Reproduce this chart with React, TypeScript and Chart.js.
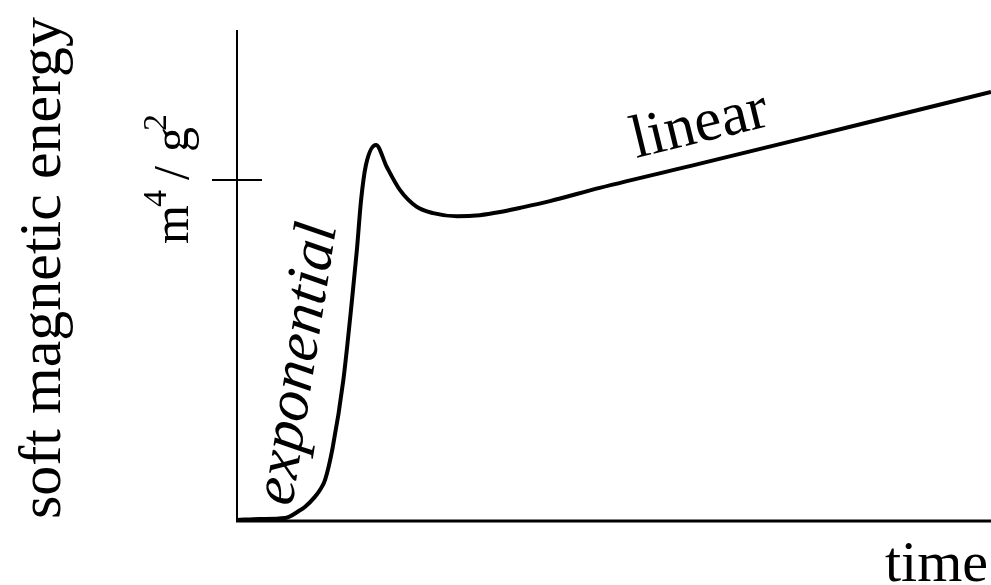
import React, { useEffect, useRef } from "react";
import { Chart, registerables } from "chart.js";

Chart.register(...registerables);

// Sketch of soft magnetic energy growth over time
const timeValues = [
  0, 3, 6.4, 8.4, 9.0, 10.3, 11.0, 11.67, 12.7, 14.1, 15.25, 15.9, 16.45, 17.1,
  18.44, 19.85, 21.6, 23.8, 26.0, 29.2, 32.2, 34.9, 37.5, 41.5, 48.1, 61.4,
  74.7, 87.9, 100,
];
const energyValues = [
  0.003, 0.006, 0.009, 0.032, 0.041, 0.07, 0.091, 0.12, 0.217, 0.413, 0.648,
  0.795, 0.94, 1.044, 1.103, 1.039, 0.971, 0.922, 0.903, 0.894, 0.897, 0.906,
  0.918, 0.938, 0.977, 1.048, 1.12, 1.192, 1.258,
];
const energyTick = 1;
const yAxisTitle = "soft magnetic energy";
const xAxisTitle = "time";
const growthLabel = "exponential";
const saturationLabel = "linear";

const SERIF = '"Liberation Serif", "Times New Roman", Times, "Nimbus Roman", "DejaVu Serif", serif';

const sketchAxes = {
  id: "sketchAxes",
  afterDraw(chart: any) {
    const { ctx, chartArea } = chart;
    const y = chart.scales.y;
    const { left, right, top, bottom } = chartArea;
    ctx.save();
    ctx.strokeStyle = "#000";
    ctx.fillStyle = "#000";
    ctx.lineCap = "butt";

    // axes
    ctx.lineWidth = 2;
    ctx.beginPath();
    ctx.moveTo(left, top);
    ctx.lineTo(left, bottom);
    ctx.stroke();
    ctx.lineWidth = 3;
    ctx.beginPath();
    ctx.moveTo(left - 1, bottom);
    ctx.lineTo(right, bottom);
    ctx.stroke();

    // tick crossing the y axis
    const ty = y.getPixelForValue(energyTick);
    ctx.lineWidth = 2;
    ctx.beginPath();
    ctx.moveTo(left - 25, ty);
    ctx.lineTo(left + 25, ty);
    ctx.stroke();

    ctx.textBaseline = "alphabetic";
    ctx.textAlign = "left";

    // y axis title
    ctx.save();
    ctx.translate(60, 519);
    ctx.rotate(-Math.PI / 2);
    ctx.font = `60px ${SERIF}`;
    ctx.fillText(yAxisTitle, 0, 0);
    ctx.restore();

    // tick unit label m^4 / g^2
    ctx.save();
    ctx.translate(188, ty + 64);
    ctx.rotate(-Math.PI / 2);
    ctx.font = `50px ${SERIF}`;
    ctx.fillText("m", 0, 0);
    ctx.font = `34px ${SERIF}`;
    ctx.fillText("4", 37, -22);
    ctx.font = `50px ${SERIF}`;
    ctx.fillText("/", 64, 0);
    ctx.fillText("g", 92, 0);
    ctx.font = `34px ${SERIF}`;
    ctx.fillText("2", 113, -22);
    ctx.restore();

    // x axis title
    ctx.save();
    ctx.textAlign = "right";
    ctx.font = `58px ${SERIF}`;
    ctx.fillText(xAxisTitle, 988, 581);
    ctx.restore();

    // curve annotations
    ctx.save();
    ctx.translate(292, 507);
    ctx.rotate((-81 * Math.PI) / 180);
    ctx.font = `italic 61px ${SERIF}`;
    ctx.fillText(growthLabel, 0, 0);
    ctx.restore();

    ctx.save();
    ctx.translate(636, 158);
    ctx.rotate((-13.6 * Math.PI) / 180);
    ctx.font = `61px ${SERIF}`;
    ctx.fillText(saturationLabel, 0, 0);
    ctx.restore();

    ctx.restore();
  },
};

export default function App() {
  const canvasRef = useRef<HTMLCanvasElement | null>(null);

  useEffect(() => {
    if (!canvasRef.current) return;
    const chart = new Chart(canvasRef.current, {
      type: "line",
      data: {
        datasets: [
          {
            data: timeValues.map((t, i) => ({ x: t, y: energyValues[i] })),
            borderColor: "#000",
            borderWidth: 4,
            pointRadius: 0,
            cubicInterpolationMode: "monotone",
            fill: false,
          },
        ],
      },
      options: {
        responsive: false,
        animation: false,
        layout: { padding: { left: 237, right: 0, top: 30, bottom: 64 } },
        plugins: { legend: { display: false }, tooltip: { enabled: false } },
        scales: {
          x: { type: "linear", min: 0, max: 100, display: false },
          y: { type: "linear", min: 0, max: 1.44, display: false },
        },
      },
      plugins: [sketchAxes],
    });
    let alive = true;
    // redraw once the serif faces are ready
    Promise.all([
      document.fonts.load(`60px "Liberation Serif"`),
      document.fonts.load(`italic 58px "Liberation Serif"`),
    ])
      .catch(() => null)
      .then(() => {
        if (alive) chart.draw();
      });
    return () => {
      alive = false;
      chart.destroy();
    };
  }, []);

  return (
    <div
      style={{
        position: "fixed",
        left: 0,
        top: 0,
        width: 991,
        height: 585,
        background: "#fff",
      }}
    >
      <span
        style={{
          position: "absolute",
          left: -9999,
          fontFamily: SERIF,
        }}
      >
        soft <i>exponential</i>
      </span>
      <canvas ref={canvasRef} width={991} height={585} />
    </div>
  );
}
